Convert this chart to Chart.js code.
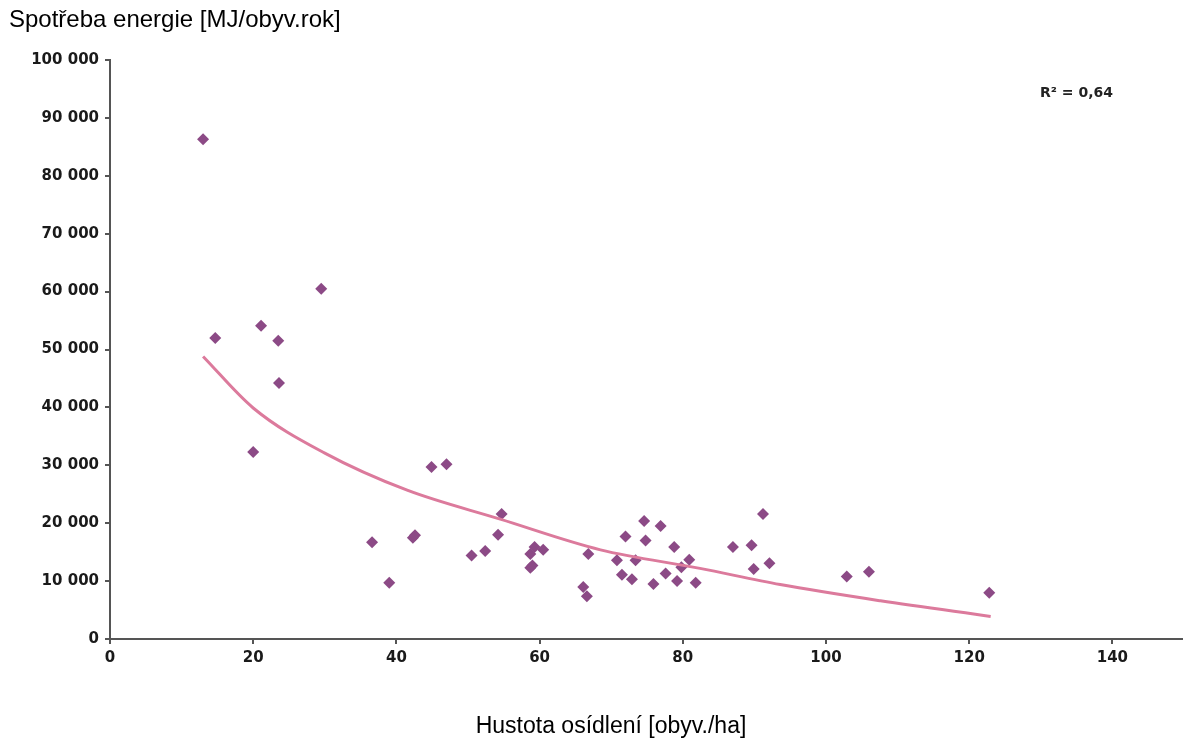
<!DOCTYPE html>
<html>
<head>
<meta charset="utf-8">
<script src="https://cdn.jsdelivr.net/npm/chart.js@4/dist/chart.umd.min.js"></script>
<style>
    body { margin: 0; background: #fff; }
    #wrap { position: relative; width: 1183px; height: 745px; overflow: hidden; }
    #chart { position: absolute; left: 0; top: 0; }
    .axis-title { position: absolute; font-family: "Liberation Sans", Arial, sans-serif; color: #000; white-space: nowrap; }
    #yTitle { left: 9px; top: 5px; font-size: 24px; }
    #xTitle { left: 0; width: 1222px; top: 712px; text-align: center; font-size: 23px; }
</style>
</head>
<body>
<div id="wrap">
    <canvas id="chart" width="1190" height="745"></canvas>
    <div class="axis-title" id="yTitle">Spotřeba energie [MJ/obyv.rok]</div>
    <div class="axis-title" id="xTitle">Hustota osídlení [obyv./ha]</div>
</div>
<script>
// Hustota osídlení (x) a spotřeba energie (y) pro jednotlivá města
const density = [13.0, 14.7, 20.0, 21.1, 23.5, 23.6, 29.5, 36.6, 39.0, 42.3, 42.6, 44.9, 47.0, 50.5,
    52.4, 54.2, 54.7, 58.7, 59.3, 60.5, 58.7, 59.0, 66.1, 66.6, 66.8, 70.8, 71.5, 72.0, 72.9, 73.4,
    74.6, 74.8, 75.9, 76.9, 77.6, 78.8, 79.2, 79.8, 80.9, 81.8, 87.0, 89.6, 89.9, 91.2, 92.1,
    102.9, 106.0, 122.8];
const energy = [86300, 52000, 32300, 54100, 51500, 44200, 60500, 16700, 9700, 17500, 17900, 29700, 30200, 14400,
    15200, 18000, 21600, 14700, 15900, 15400, 12300, 12700, 9000, 7400, 14700, 13600, 11100, 17700, 10300, 13600,
    20400, 17000, 9500, 19500, 11300, 15900, 10000, 12400, 13700, 9700, 15900, 16200, 12100, 21600, 13100,
    10800, 11600, 8000];

// trend line
const trendX = [13, 20, 30, 41.5, 54.5, 68.5, 82.4, 93.6, 107.6, 123];
const trendY = [48800, 39900, 32100, 25700, 20700, 15400, 12200, 9400, 6600, 3900];

const xTicks = [0, 20, 40, 60, 80, 100, 120, 140];
const r2Label = 'R² = 0,64';

const tickFont = { family: 'DejaVu Sans', size: 15, weight: 'bold' };
const axisColor = '#555';

function fmtThousands(v) {
    return String(v).replace(/\B(?=(\d{3})+(?!\d))/g, ' ');
}

const r2Plugin = {
    id: 'r2',
    afterDraw(chart) {
        const ctx = chart.ctx;
        ctx.save();
        ctx.font = 'bold 14px "DejaVu Sans"';
        ctx.fillStyle = '#222';
        ctx.textBaseline = 'alphabetic';
        ctx.fillText(r2Label, 1040, 97);
        ctx.restore();
    }
};

new Chart(document.getElementById('chart'), {
    type: 'scatter',
    data: {
        datasets: [
            {
                label: 'Spotřeba',
                data: density.map((x, i) => ({ x: x, y: energy[i] })),
                pointStyle: 'rectRot',
                pointRadius: 6,
                backgroundColor: '#8c4a86',
                borderColor: '#8c4a86',
                borderWidth: 0,
                order: 2
            },
            {
                label: 'Trend',
                data: trendX.map((x, i) => ({ x: x, y: trendY[i] })),
                showLine: true,
                cubicInterpolationMode: 'monotone',
                pointRadius: 0,
                borderColor: '#dc7a9c',
                borderWidth: 3,
                order: 1
            }
        ]
    },
    options: {
        responsive: false,
        animation: false,
        layout: { padding: { left: 0, top: 60, right: 0, bottom: 66 } },
        plugins: { legend: { display: false }, tooltip: { enabled: false } },
        scales: {
            x: {
                type: 'linear', min: 0, max: 150,
                afterBuildTicks: s => { s.ticks = xTicks.concat([150]).map(v => ({ value: v })); },
                ticks: { font: tickFont, color: '#1a1a1a', padding: 5, maxRotation: 0,
                    callback: v => (v === 150 ? '' : v) },
                grid: { drawOnChartArea: false, drawTicks: true, tickLength: 5, color: axisColor, lineWidth: 2 },
                border: { color: axisColor, width: 2 },
                afterFit: s => { s.height = 40; }
            },
            y: {
                min: 0, max: 100000,
                ticks: { stepSize: 10000, font: tickFont, color: '#1a1a1a', padding: 6,
                    callback: v => fmtThousands(v) },
                grid: { drawOnChartArea: false, drawTicks: true, tickLength: 5, color: axisColor, lineWidth: 2 },
                border: { color: axisColor, width: 2 },
                afterFit: s => { s.width = 110; }
            }
        }
    },
    plugins: [r2Plugin]
});
</script>
</body>
</html>
